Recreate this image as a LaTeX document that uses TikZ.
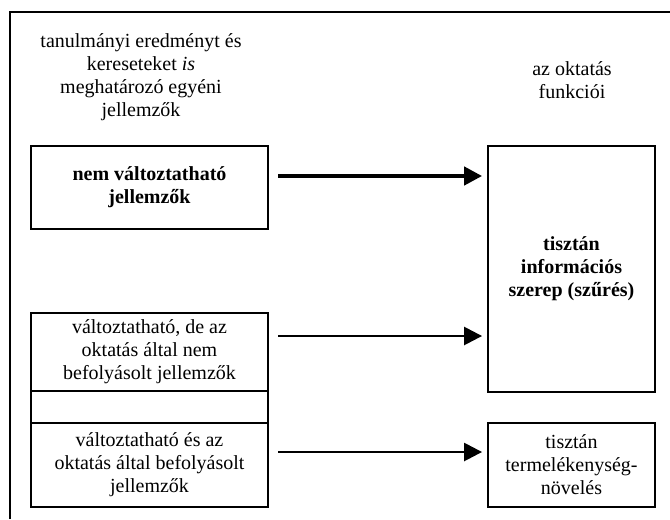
\documentclass[tikz,border=0pt]{standalone}
\usepackage{fontspec}
\setmainfont{Liberation Serif}
\usepackage{tikz}
\usetikzlibrary{arrows.meta,positioning}

\begin{document}
\begin{tikzpicture}[x=0.6pt,y=-0.6pt,>={Triangle[length=10.8pt,width=11pt]},font=\fontsize{12}{13.8}\selectfont]
\tikzstyle{box} = [draw=black,line width=1.2pt,align=center,inner sep=0pt,minimum width=142.2pt]
\tikzstyle{funcbox} = [box,minimum width=100.2pt]
\tikzstyle{headtext} = [align=center,inner sep=0pt]
\tikzstyle{thickarrow} = [->,line width=2.2pt,shorten >=3pt]
\tikzstyle{thinarrow} = [->,line width=1pt,shorten >=3pt]
    \useasboundingbox (0,0) rectangle (670,519);
    \draw[line width=1.2pt] (10,519) -- (10,12) -- (670,12);

    \node[headtext] (lefthead) at (141,77) {tanulmányi eredményt és\\kereseteket \textit{is}\\meghatározó egyéni\\jellemzők};
    \node[headtext] (righthead) at (572,80) {az oktatás\\funkciói};

    \node[box,minimum height=49.8pt] (fixed) at (149.5,187.5) {\textbf{nem változtatható}\\\textbf{jellemzők}};
    \node[box,minimum height=46.8pt] (changeable) at (149.5,352) {változtatható, de az\\oktatás által nem\\befolyásolt jellemzők};
    \node[box,minimum height=19.2pt] (gap) at (149.5,407) {};
    \node[box,minimum height=50.4pt] (influenced) at (149.5,465) {változtatható és az\\oktatás által befolyásolt\\jellemzők};

    \node[funcbox,minimum height=147.6pt] (screening) at (571.5,269) {\textbf{tisztán}\\\textbf{információs}\\\textbf{szerep (szűrés)}};
    \node[funcbox,minimum height=50.4pt] (productivity) at (571.5,465) {tisztán\\termelékenység-\\növelés};

    \coordinate (s1) at (278,176);
    \coordinate (s2) at (278,336);
    \coordinate (s3) at (278,452);
    \draw[thickarrow] (s1) -- (s1 -| screening.west);
    \draw[thinarrow] (s2) -- (s2 -| screening.west);
    \draw[thinarrow] (s3) -- (s3 -| productivity.west);
\end{tikzpicture}
\end{document}
